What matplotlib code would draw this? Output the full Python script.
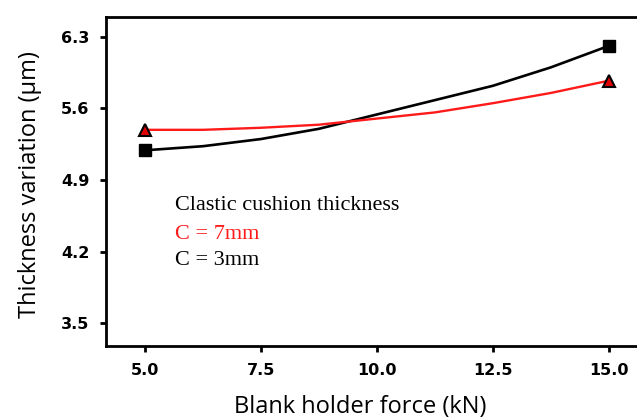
import numpy as np
import matplotlib
matplotlib.use("Agg")
import matplotlib.pyplot as plt

# blank holder force (kN) and thickness variation
force = [5.0, 6.25, 7.5, 8.75, 10.0, 11.25, 12.5, 13.75, 15.0]
thick_c3 = [5.19, 5.23, 5.30, 5.40, 5.54, 5.68, 5.82, 6.00, 6.21]
thick_c7 = [5.39, 5.39, 5.41, 5.44, 5.50, 5.56, 5.65, 5.75, 5.87]

xticks = [5.0, 7.5, 10.0, 12.5, 15.0]
yticks = [3.5, 4.2, 4.9, 5.6, 6.3]

fig = plt.figure(figsize=(6.37, 4.19), dpi=100)
# right spine sits outside the figure, as in the source image
ax = fig.add_axes([0.1664, 0.174, 0.895, 0.785])

ax.plot(force, thick_c3, color="black", lw=1.9,
        marker="s", markersize=8, markevery=[0, len(force) - 1],
        markerfacecolor="black", markeredgecolor="black")
ax.plot(force, thick_c7, color="#ff1a1a", lw=1.7,
        marker="^", markersize=8, markevery=[0, len(force) - 1],
        markerfacecolor="#e00000", markeredgecolor="black", markeredgewidth=1.5)

ax.set_xlim(4.16, 16.45)
ax.set_ylim(3.278, 6.49)
ax.set_xticks(xticks)
ax.set_yticks(yticks)
ax.set_xticklabels([f"{v:.1f}" for v in xticks])
ax.set_yticklabels([f"{v:.1f}" for v in yticks])

for lab in ax.get_xticklabels() + ax.get_yticklabels():
    lab.set_fontfamily("DejaVu Sans")
    lab.set_fontweight("bold")
    lab.set_fontsize(11.5)

ax.tick_params(direction="out", length=4, width=2, pad=8)
for sp in ax.spines.values():
    sp.set_linewidth(2)

ax.set_xlabel("Blank holder force (kN)", fontsize=17, family="Open Sans")
ax.set_ylabel("Thickness variation (\u03bcm)", fontsize=17, family="Open Sans")
ax.xaxis.set_label_coords(0.446, -0.15)
ax.yaxis.set_label_coords(-0.112, 0.49)

ax.text(5.65, 4.655, "Clastic cushion thickness", fontsize=16,
        family="Liberation Serif", va="center")
ax.text(5.65, 4.372, "C = 7mm", fontsize=16, color="#ff1a1a",
        family="Liberation Serif", va="center")
ax.text(5.65, 4.118, "C = 3mm", fontsize=16, color="black",
        family="Liberation Serif", va="center")

fig.savefig("out.png", dpi=100)
